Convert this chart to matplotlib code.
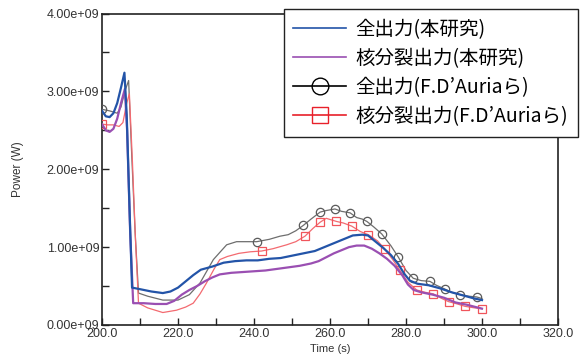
import matplotlib
matplotlib.use("Agg")
import matplotlib.pyplot as plt
from matplotlib.lines import Line2D

# 全出力(本研究)
total_t = [200, 201, 202, 203, 204, 205, 205.9, 206.5, 207.3, 207.9, 210, 213, 216, 218,
           220, 222, 224, 226, 229, 232, 235, 238, 241, 244, 247, 250, 253, 256, 258, 260,
           262, 264, 266, 268.5, 270, 272, 274, 276, 278, 279.5, 281, 283, 286, 289, 292,
           295, 298, 300]
total_p = [2.75, 2.68, 2.67, 2.72, 2.85, 3.05, 3.24, 2.7, 1.4, 0.48, 0.46, 0.43, 0.41, 0.43,
           0.48, 0.56, 0.64, 0.71, 0.75, 0.80, 0.82, 0.83, 0.83, 0.85, 0.86, 0.89, 0.92, 0.95,
           0.99, 1.03, 1.07, 1.11, 1.15, 1.16, 1.15, 1.07, 0.99, 0.90, 0.78, 0.66, 0.57, 0.53,
           0.51, 0.47, 0.42, 0.38, 0.34, 0.32]

# 核分裂出力(本研究)
fis_t = [200, 201, 202, 203, 204, 205, 206, 206.6, 207.4, 208.2, 211, 214, 217, 219, 221,
         223, 225, 227, 229, 231, 234, 237, 240, 243, 246, 249, 252, 255, 257, 259, 261,
         263, 265, 267, 269, 271, 273, 275, 277, 279, 280.5, 282, 284, 287, 290, 293, 296,
         300]
fis_p = [2.58, 2.50, 2.48, 2.52, 2.65, 2.85, 3.03, 2.5, 1.2, 0.28, 0.28, 0.27, 0.27, 0.31,
         0.39, 0.45, 0.50, 0.56, 0.61, 0.65, 0.67, 0.68, 0.69, 0.70, 0.72, 0.74, 0.76, 0.79,
         0.82, 0.87, 0.92, 0.96, 1.00, 1.02, 1.02, 0.98, 0.92, 0.85, 0.76, 0.64, 0.52, 0.45,
         0.42, 0.39, 0.35, 0.29, 0.26, 0.21]

# 全出力(F.D'Auriaら)
aur_total_t = [200, 202, 204, 205, 206, 207, 207.8, 208.7, 209.6, 212, 216, 220, 223, 225.8,
               229.3, 232.8, 235.4, 240.7, 244, 246.8, 249, 251, 253, 255, 257.4, 259, 261.3,
               263, 265.3, 267, 268.5, 269.7, 271.5, 273.6, 276, 278, 280, 281.9, 284, 286.3,
               288, 290.3, 292, 294.2, 296.5, 298.6, 300]
aur_total_p = [2.77, 2.75, 2.72, 2.80, 3.0, 3.14, 2.2, 1.2, 0.41, 0.37, 0.32, 0.32, 0.39, 0.54,
               0.84, 1.03, 1.07, 1.07, 1.10, 1.14, 1.16, 1.21, 1.28, 1.36, 1.45, 1.47, 1.49,
               1.46, 1.44, 1.38, 1.36, 1.33, 1.26, 1.17, 1.02, 0.87, 0.70, 0.60, 0.57, 0.56,
               0.51, 0.46, 0.42, 0.39, 0.37, 0.36, 0.34]
aur_total_marks = [200, 240.7, 253, 257.4, 261.3, 265.3, 269.7, 273.6, 278, 281.9, 286.3,
                   290.3, 294.2, 298.6]

# 核分裂出力(F.D'Auriaら)
aur_fis_t = [200, 201.5, 203, 204.5, 205.5, 206.5, 207.2, 208, 208.8, 209.6, 212, 216, 219.6,
             222, 224, 225.8, 227.5, 229.5, 231, 233, 236, 239, 242, 245, 248.6, 251, 253.4,
             255.5, 257.4, 259, 261.7, 263.5, 265.7, 268, 270.1, 272.5, 274.5, 276.5, 278.4,
             280.5, 282.8, 285, 287.2, 289, 291.2, 293.5, 295.5, 298, 299.9]
aur_fis_p = [2.58, 2.57, 2.57, 2.55, 2.60, 2.85, 2.97, 2.1, 1.1, 0.28, 0.22, 0.16, 0.19, 0.23,
             0.28, 0.40, 0.54, 0.72, 0.84, 0.88, 0.92, 0.94, 0.95, 0.98, 1.03, 1.07, 1.14,
             1.24, 1.32, 1.37, 1.33, 1.31, 1.27, 1.20, 1.16, 1.08, 0.97, 0.84, 0.70, 0.55,
             0.45, 0.42, 0.40, 0.35, 0.30, 0.27, 0.24, 0.22, 0.21]
aur_fis_marks = [200, 242, 253.4, 257.4, 261.7, 265.7, 270.1, 274.5, 278.4, 282.8, 287.2,
                 291.2, 295.5, 299.9]

labels = ["全出力(本研究)", "核分裂出力(本研究)", "全出力(F.D’Auriaら)", "核分裂出力(F.D’Auriaら)"]

plt.rcParams["font.family"] = ["Liberation Sans", "DejaVu Sans"]

fig = plt.figure(figsize=(5.81, 3.63), dpi=100)
ax = fig.add_axes([0.1756, 0.1047, 0.7848, 0.858])

scale = 1e9
ax.plot(aur_total_t, [p * scale for p in aur_total_p], color="#6e6e6e", lw=0.9,
        marker="o", ms=6, mfc="none", mec="#5a5a5a", mew=0.9,
        markevery=[aur_total_t.index(v) for v in aur_total_marks], zorder=3)
ax.plot(aur_fis_t, [p * scale for p in aur_fis_p], color="#f36a70", lw=0.9,
        marker="s", ms=5.5, mfc="none", mec="#f0555b", mew=0.9,
        markevery=[aur_fis_t.index(v) for v in aur_fis_marks], zorder=3)
ax.plot(fis_t, [p * scale for p in fis_p], color="#9a4fb2", lw=1.6, zorder=4)
ax.plot(total_t, [p * scale for p in total_p], color="#2354a8", lw=1.6, zorder=5)

ax.set_xlim(200, 320)
ax.set_ylim(0, 4e9)
ax.set_xticks(range(200, 321, 20))
ax.set_xticks(range(210, 320, 20), minor=True)
ax.set_xticklabels([f"{v:.1f}" for v in range(200, 321, 20)])
ax.set_yticks([i * 1e9 for i in range(5)])
ax.set_yticks([0.5e9, 1.5e9, 2.5e9, 3.5e9], minor=True)
ax.set_yticklabels([f"{i:.2f}e+09" for i in range(5)])
ax.tick_params(which="both", direction="in", length=5, width=1, color="#222222",
               labelsize=9, labelcolor="#333333", pad=2)
for s in ax.spines.values():
    s.set_linewidth(1.2)
    s.set_color("#222222")

ax.set_xlabel("Time (s)", fontsize=8, color="#333333", labelpad=3)
ax.set_ylabel("Power (W)", fontsize=8.5, color="#333333", labelpad=16)

handles = [
    Line2D([], [], color="#2354a8", lw=1.2),
    Line2D([], [], color="#9a4fb2", lw=1.2),
    Line2D([], [], color="black", lw=1.2, marker="o", ms=12, mfc="none", mew=1),
    Line2D([], [], color="#e8202a", lw=1.2, marker="s", ms=11, mfc="none", mew=1),
]
leg = fig.legend(handles, labels, loc="upper right", bbox_to_anchor=(578 / 581, 1 - 9 / 363),
                 prop={"family": ["Noto Sans CJK JP", "DejaVu Sans"], "size": 14},
                 numpoints=1, handlelength=2.7, handletextpad=0.5, labelspacing=0.42,
                 borderpad=0.5, fancybox=False, framealpha=1, edgecolor="#222222",
                 borderaxespad=0)
leg.get_frame().set_linewidth(1.0)

fig.savefig("out.png", dpi=100)
